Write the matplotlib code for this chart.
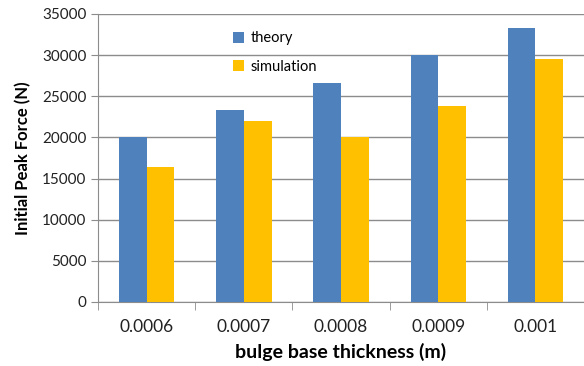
import matplotlib
matplotlib.use("Agg")
import matplotlib.pyplot as plt
import numpy as np

# data
thickness = ["0.0006", "0.0007", "0.0008", "0.0009", "0.001"]
theory = [20000, 23300, 26600, 30000, 33300]
simulation = [16400, 22000, 20000, 23800, 29500]

plt.rcParams['font.family'] = ['Lato', 'DejaVu Sans']

fig = plt.figure(figsize=(5.84, 3.66), dpi=100)
ax = fig.add_axes([0.168, 0.175, 0.832, 0.787])

x = np.arange(len(thickness))
w = 0.285
ax.bar(x - w/2, theory, w, color="#4F81BD", label="theory", zorder=3)
ax.bar(x + w/2, simulation, w, color="#FFC000", label="simulation", zorder=3)

ax.set_xlim(-0.5, len(thickness) - 0.5)
ax.set_ylim(0, 35000)
ax.set_yticks(range(0, 35001, 5000))
ax.yaxis.grid(True, color="#8c8c8c", linewidth=1)
ax.set_axisbelow(True)

# category ticks sit on the boundaries
ax.set_xticks(x)
ax.set_xticklabels(thickness, fontsize=12.5, color="#222222")
ax.set_xticks(np.arange(-0.5, len(thickness), 1), minor=True)
ax.tick_params(axis="x", which="major", length=0, pad=12)
ax.tick_params(axis="x", which="minor", length=6, color="#8c8c8c", direction="out")
ax.tick_params(axis="y", length=5, color="#8c8c8c", labelsize=11, labelcolor="#222222")

for s in ["top", "right"]:
    ax.spines[s].set_visible(False)
for s in ["left", "bottom"]:
    ax.spines[s].set_color("#8c8c8c")

ax.set_xlabel("bulge base thickness (m)", fontsize=14, fontweight="bold", labelpad=6)
ax.set_ylabel("Initial Peak Force (N)", fontsize=12, fontweight="bold", labelpad=8)

ax.legend(loc="upper left", bbox_to_anchor=(0.25, 0.985), frameon=False,
          fontsize=10.5, handlelength=0.8, handleheight=0.8, handletextpad=0.4,
          labelspacing=1.0)

fig.savefig("out.png", dpi=100)
